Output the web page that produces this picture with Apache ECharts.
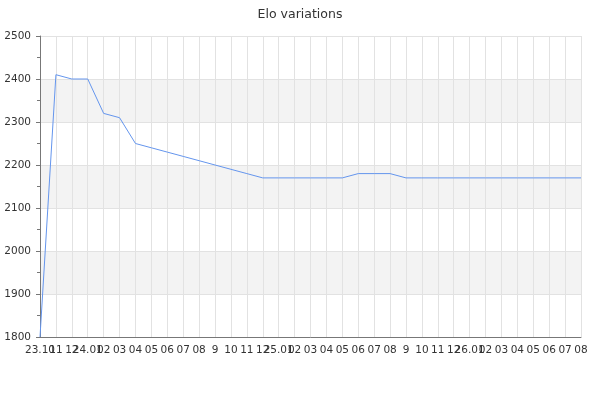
<!DOCTYPE html>
<html>
<head>
<meta charset="utf-8">
<script src="https://cdn.jsdelivr.net/npm/echarts@6/dist/echarts.min.js"></script>
<style>html,body{margin:0;padding:0;background:#fff}#c{width:600px;height:400px}</style>
</head>
<body>
<div id="c"></div>
<script>
var monthLabels = ["23.10","11","12","24.01","02","03","04","05","06","07","08","9","10","11","12",
  "25.01","02","03","04","05","06","07","08","9","10","11","12",
  "26.01","02","03","04","05","06","07","08"];
var eloValues = [1800,2410,2400,2400,2320,2310,2250,2240,2230,2220,2210,2200,2190,2180,2170,
  2170,2170,2170,2170,2170,2180,2180,2180,2170,2170,2170,2170,
  2170,2170,2170,2170,2170,2170,2170,2170];
var yTicks = [1800,1900,2000,2100,2200,2300,2400,2500];

var chart = echarts.init(document.getElementById('c'), null, {renderer:'canvas'});
chart.setOption({
  animation:false,
  backgroundColor:'#ffffff',
  textStyle:{fontFamily:'DejaVu Sans'},
  title:{text:'Elo variations',left:'center',top:3,
    textStyle:{fontFamily:'DejaVu Sans',fontSize:12.5,fontWeight:'normal',color:'#333'}},
  grid:{left:40,right:19,top:36,bottom:63,containLabel:false},
  xAxis:{type:'category',data:monthLabels,boundaryGap:false,
    axisLine:{lineStyle:{color:'#777',width:1}},
    axisTick:{show:false},
    axisLabel:{interval:0,hideOverlap:false,color:'#333',fontSize:10.5,margin:8,fontFamily:'DejaVu Sans'},
    splitLine:{show:true,interval:0,lineStyle:{color:'#e2e2e2',width:1}}},
  yAxis:{type:'value',min:yTicks[0],max:yTicks[yTicks.length-1],interval:100,
    axisLine:{show:true,lineStyle:{color:'#777',width:1}},
    axisTick:{show:true,length:4,lineStyle:{color:'#777'}},
    minorTick:{show:true,splitNumber:2,length:3,lineStyle:{color:'#777'}},
    axisLabel:{color:'#333',fontSize:10.5,margin:9,fontFamily:'DejaVu Sans',
      formatter:function(v){return String(v);}},
    splitLine:{show:true,lineStyle:{color:'#e2e2e2',width:1}},
    splitArea:{show:true,areaStyle:{color:['#ffffff','#f3f3f3']}}},
  series:[{type:'line',data:eloValues,showSymbol:false,symbol:'none',
    lineStyle:{color:'#6495ed',width:1},itemStyle:{color:'#6495ed'}}]
});
</script>
</body>
</html>
